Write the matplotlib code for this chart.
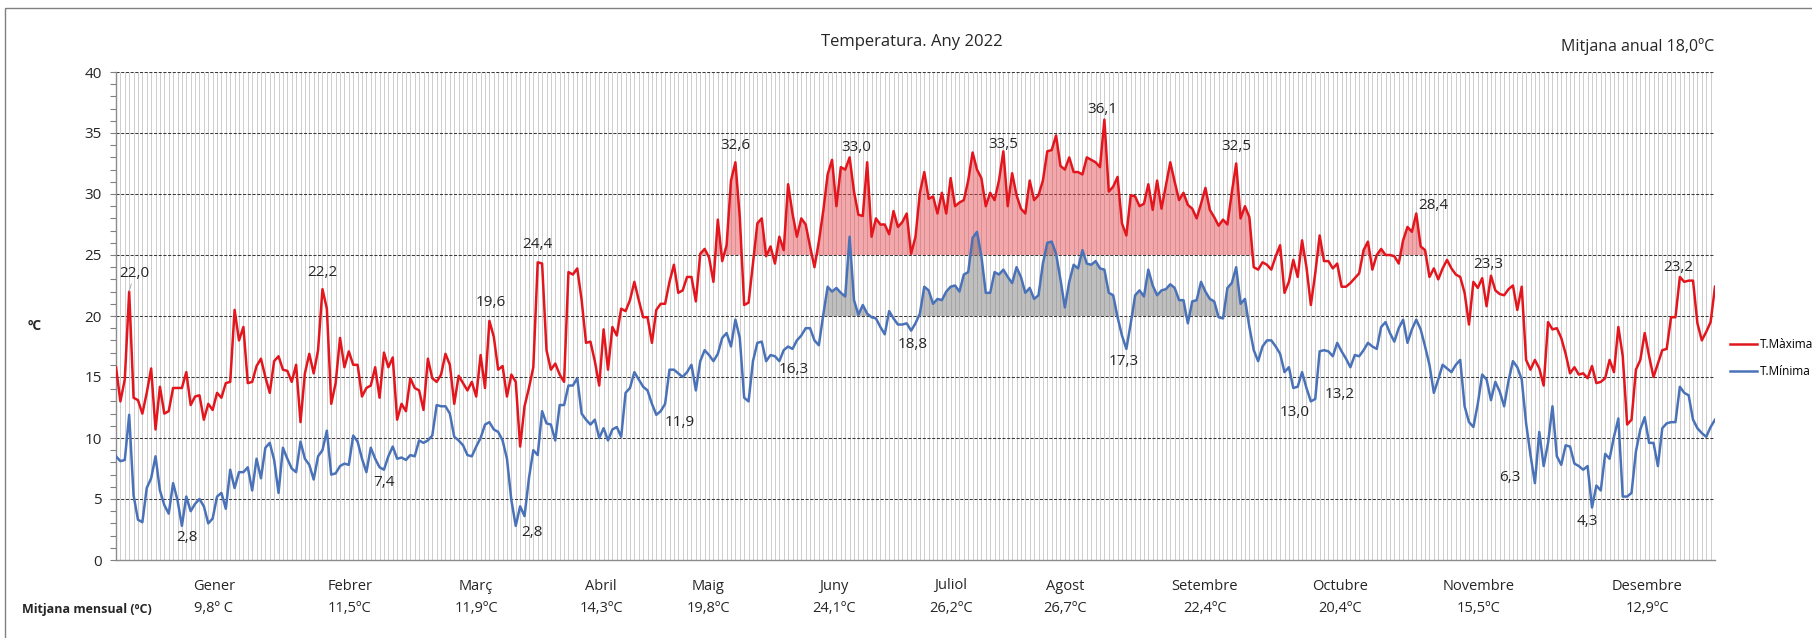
import matplotlib
matplotlib.use('Agg')
from matplotlib import pyplot as plt
from matplotlib.patches import Rectangle
from matplotlib.ticker import MultipleLocator
import numpy as np

plt.rcParams['font.family'] = ['Open Sans', 'DejaVu Sans']

# daily maximum temperatures, one list per month
tmax_gen = [15.8, 13.0, 14.8, 22.0, 13.3, 13.1, 12.0, 13.7, 15.7, 10.7, 14.2, 12.0, 12.2, 14.1, 14.1, 14.1,
            15.4, 12.7, 13.4, 13.5, 11.5, 12.8, 12.3, 13.7, 13.3, 14.5, 14.6, 20.5, 18.0, 19.1, 14.5]
tmax_feb = [14.6, 15.9, 16.5, 15.0, 13.7, 16.3, 16.7, 15.6, 15.5, 14.6, 16.0, 11.3, 15.3, 16.9, 15.3, 17.2,
            22.2, 20.6, 12.8, 14.5, 18.2, 15.8, 17.1, 16.0, 16.0, 13.4, 14.1, 14.3]
tmax_mar = [15.8, 13.3, 17.0, 15.8, 16.6, 11.5, 12.8, 12.2, 14.9, 14.1, 13.9, 12.3, 16.5, 14.9, 14.6, 15.2,
            16.9, 16.0, 12.8, 15.1, 14.5, 13.9, 14.6, 13.4, 16.8, 14.1, 19.6, 18.3, 15.6, 15.9, 13.4]
tmax_abr = [15.2, 14.6, 9.3, 12.6, 14.1, 15.8, 24.4, 24.3, 17.2, 15.6, 16.1, 15.2, 14.6, 23.6, 23.4, 23.9,
            21.3, 17.8, 17.9, 16.3, 14.3, 18.9, 15.6, 19.1, 18.4, 20.6, 20.4, 21.3, 22.8, 21.3]
tmax_mai = [19.9, 19.9, 17.8, 20.5, 21.0, 21.0, 22.8, 24.2, 21.9, 22.1, 23.2, 23.2, 21.2, 25.1, 25.5, 24.8,
            22.8, 27.9, 24.5, 25.8, 31.1, 32.6, 28.1, 20.9, 21.1, 24.3, 27.6, 28.0, 24.9, 25.7, 24.3]
tmax_jun = [26.5, 25.4, 30.8, 28.4, 26.5, 28.0, 27.5, 25.7, 24.0, 26.1, 28.6, 31.6, 32.8, 29.0, 32.2, 32.0,
            33.0, 30.2, 28.3, 28.2, 32.6, 26.5, 28.0, 27.5, 27.5, 26.7, 28.6, 27.3, 27.7, 28.4]
tmax_jul = [25.1, 26.5, 30.1, 31.8, 29.6, 29.8, 28.4, 30.1, 28.4, 31.3, 29.0, 29.3, 29.5, 31.1, 33.4, 32.0,
            31.3, 29.0, 30.1, 29.5, 31.1, 33.5, 29.0, 31.7, 29.9, 28.8, 28.4, 31.1, 29.5, 29.9, 31.1]
tmax_ago = [33.5, 33.6, 34.8, 32.3, 32.0, 33.0, 31.8, 31.8, 31.6, 33.0, 32.8, 32.6, 32.2, 36.1, 30.2, 30.6,
            31.4, 27.6, 26.6, 29.9, 29.8, 29.0, 29.2, 30.8, 28.7, 31.1, 28.8, 30.7, 32.6, 31.0, 29.5]
tmax_set = [30.1, 29.1, 28.8, 28.0, 29.2, 30.5, 28.7, 28.1, 27.4, 27.9, 27.5, 30.1, 32.5, 28.0, 29.0, 28.1,
            24.0, 23.8, 24.4, 24.2, 23.8, 24.9, 25.8, 21.9, 22.8, 24.6, 23.2, 26.2, 24.0, 20.9]
tmax_oct = [23.5, 26.6, 24.5, 24.5, 23.9, 24.3, 22.4, 22.4, 22.7, 23.1, 23.5, 25.4, 26.1, 23.8, 25.0, 25.5,
            25.0, 25.0, 24.9, 24.3, 26.2, 27.3, 26.9, 28.4, 25.7, 25.4, 23.2, 23.9, 23.0, 23.9, 24.6]
tmax_nov = [23.9, 23.4, 23.2, 21.9, 19.3, 22.8, 22.3, 23.1, 20.8, 23.3, 22.1, 21.8, 21.7, 22.2, 22.5, 20.5,
            22.4, 16.4, 15.6, 16.4, 15.7, 14.3, 19.5, 18.9, 19.0, 18.2, 16.9, 15.3, 15.8, 15.2]
tmax_des = [15.3, 14.9, 15.9, 14.5, 14.6, 14.9, 16.4, 15.4, 19.1, 16.7, 11.1, 11.5, 15.6, 16.4, 18.6, 16.7,
            15.0, 16.1, 17.2, 17.3, 19.9, 19.9, 23.2, 22.8, 22.9, 22.9, 19.4, 18.0, 18.7, 19.5, 22.4]

# daily minimum temperatures
tmin_gen = [8.5, 8.1, 8.2, 11.9, 5.3, 3.3, 3.1, 5.9, 6.7, 8.5, 5.7, 4.5, 3.8, 6.3, 4.9, 2.8,
            5.2, 4.0, 4.6, 5.0, 4.4, 3.0, 3.4, 5.2, 5.5, 4.2, 7.4, 5.9, 7.2, 7.2, 7.6]
tmin_feb = [5.7, 8.3, 6.7, 9.2, 9.6, 8.2, 5.5, 9.2, 8.3, 7.5, 7.2, 9.7, 8.3, 7.8, 6.6, 8.5,
            9.0, 10.6, 7.0, 7.1, 7.7, 7.9, 7.8, 10.2, 9.7, 8.3, 7.2, 9.2]
tmin_mar = [8.3, 7.6, 7.4, 8.5, 9.3, 8.3, 8.4, 8.2, 8.6, 8.5, 9.8, 9.6, 9.8, 10.2, 12.7, 12.6,
            12.6, 12.0, 10.1, 9.8, 9.4, 8.6, 8.5, 9.3, 10.0, 11.1, 11.3, 10.7, 10.5, 9.8, 8.3]
tmin_abr = [4.9, 2.8, 4.4, 3.6, 6.7, 9.0, 8.6, 12.2, 11.2, 11.1, 9.8, 12.7, 12.7, 14.3, 14.3, 14.9,
            12.0, 11.5, 11.1, 11.5, 10.0, 10.8, 9.8, 10.7, 10.9, 10.1, 13.7, 14.1, 15.4, 14.8]
tmin_mai = [14.2, 13.9, 12.8, 11.9, 12.2, 12.8, 15.6, 15.6, 15.3, 15.0, 15.4, 16.0, 13.9, 16.3, 17.2, 16.8,
            16.3, 16.9, 18.2, 18.6, 17.5, 19.7, 18.2, 13.3, 13.0, 16.3, 17.8, 17.9, 16.3, 16.8, 16.7]
tmin_jun = [16.3, 17.2, 17.5, 17.3, 18.0, 18.4, 19.0, 19.0, 18.0, 17.6, 20.1, 22.4, 22.0, 22.3, 21.9, 21.6,
            26.5, 21.3, 20.1, 20.9, 20.2, 19.9, 19.8, 19.1, 18.5, 20.4, 19.8, 19.3, 19.3, 19.4]
tmin_jul = [18.8, 19.4, 20.2, 22.4, 22.1, 21.0, 21.4, 21.3, 22.0, 22.4, 22.5, 22.0, 23.4, 23.6, 26.4, 26.9,
            24.9, 21.9, 21.9, 23.6, 23.4, 23.8, 23.2, 22.7, 24.0, 23.2, 21.9, 22.3, 21.4, 21.7, 24.3]
tmin_ago = [26.0, 26.1, 25.1, 23.0, 20.7, 22.8, 24.2, 23.9, 25.4, 24.3, 24.2, 24.5, 23.9, 23.8, 21.9, 21.7,
            19.9, 18.4, 17.3, 19.4, 21.7, 22.1, 21.6, 23.8, 22.5, 21.7, 22.1, 22.2, 22.6, 22.3, 21.3]
tmin_set = [21.3, 19.4, 21.2, 21.3, 22.8, 22.0, 21.4, 21.2, 19.9, 19.8, 22.3, 22.7, 24.0, 21.0, 21.4, 19.1,
            17.2, 16.3, 17.5, 18.0, 18.0, 17.5, 16.9, 15.4, 15.8, 14.1, 14.2, 15.4, 14.1, 13.0]
tmin_oct = [13.2, 17.1, 17.2, 17.1, 16.7, 17.8, 17.1, 16.5, 15.8, 16.8, 16.7, 17.2, 17.8, 17.5, 17.3, 19.1,
            19.5, 18.6, 17.9, 19.0, 19.7, 17.8, 18.9, 19.7, 18.9, 17.5, 16.0, 13.7, 14.8, 16.0, 15.7]
tmin_nov = [15.4, 16.0, 16.4, 12.6, 11.3, 10.9, 12.8, 15.2, 14.8, 13.1, 14.6, 13.8, 12.6, 14.7, 16.3, 15.8,
            14.8, 11.2, 8.6, 6.3, 10.5, 7.7, 9.6, 12.6, 8.5, 7.8, 9.4, 9.3, 7.9, 7.7]
tmin_des = [7.4, 7.7, 4.3, 6.1, 5.7, 8.7, 8.3, 10.1, 11.6, 5.2, 5.2, 5.5, 8.9, 10.7, 11.7, 9.6,
            9.6, 7.7, 10.8, 11.2, 11.3, 11.3, 14.2, 13.7, 13.5, 11.5, 10.8, 10.4, 10.1, 10.9, 11.5]

mesos = ['Gener', 'Febrer', 'Març', 'Abril', 'Maig', 'Juny', 'Juliol', 'Agost', 'Setembre',
         'Octubre', 'Novembre', 'Desembre']
mitjanes = ['9,8º C', '11,5ºC', '11,9ºC', '14,3ºC', '19,8ºC', '24,1ºC', '26,2ºC', '26,7ºC', '22,4ºC',
            '20,4ºC', '15,5ºC', '12,9ºC']
mitjana_anual = '18,0ºC'

# days (0 = 1 Jan) whose value is labelled
dies_max = [3, 47, 85, 96, 141, 167, 202, 225, 255, 296, 313, 356]
dies_min = [15, 61, 91, 123, 151, 181, 230, 272, 273, 323, 336]

tmax = np.array(tmax_gen + tmax_feb + tmax_mar + tmax_abr + tmax_mai + tmax_jun +
                tmax_jul + tmax_ago + tmax_set + tmax_oct + tmax_nov + tmax_des)
tmin = np.array(tmin_gen + tmin_feb + tmin_mar + tmin_abr + tmin_mai + tmin_jun +
                tmin_jul + tmin_ago + tmin_set + tmin_oct + tmin_nov + tmin_des)
dies = np.arange(len(tmax))

W, H = 1812, 638
fig = plt.figure(figsize=(W / 100, H / 100), dpi=100)
fig.patches.append(Rectangle((5 / W, -0.1), 1.2, 1 - 8 / H + 0.1, transform=fig.transFigure,
                             fill=False, edgecolor='#808080', linewidth=1.0))

ax = fig.add_axes([116 / W, 1 - 560 / H, (1715 - 116) / W, (560 - 72) / H])
ax.set_xlim(0, len(tmax) - 1)
ax.set_ylim(0, 40)

# one vertical grid line per day
ax.vlines(dies, 0, 40, colors='#c9c9c9', linewidth=0.65, zorder=0)
for v in range(5, 41, 5):
  ax.axhline(v, color='#3a3a3a', linewidth=0.75, linestyle=(0, (3, 1.5)), zorder=1)

ax.fill_between(dies, 25, tmax, where=tmax > 25, interpolate=True,
                facecolor=(0.9, 0.25, 0.28, 0.45), linewidth=0, zorder=2)
ax.fill_between(dies, 20, tmin, where=tmin > 20, interpolate=True,
                facecolor=(0.45, 0.45, 0.45, 0.45), linewidth=0, zorder=2)

l_max, = ax.plot(dies, tmax, color='#E3161E', linewidth=1.8, label='T.Màxima', zorder=4)
l_min, = ax.plot(dies, tmin, color='#4A72B8', linewidth=1.8, label='T.Mínima', zorder=3)

def fmt(v):
  return ('%.1f' % v).replace('.', ',')

# label offsets in pixels (dx, dy up)
off_max = [(5, 18), (0, 17), (1, 18), (0, 18), (0, 17), (7, 10), (0, 7), (-2, 10), (0, 17),
           (17, 8), (-3, 11), (-2, 9)]
off_min = [(5, -12), (0, -13), (16, -7), (23, -8), (14, -8), (2, -14), (-3, -13), (-16, -11),
           (24, 4), (-25, 6), (-5, -14)]
for i, d in enumerate(dies_max):
  arrow = dict(arrowstyle='-', color='#a0a0a0', linewidth=0.6, shrinkA=0, shrinkB=6) if i == 0 else None
  ax.annotate(fmt(tmax[d]), (d, tmax[d]), xytext=off_max[i], textcoords='offset pixels',
              ha='center', va='center', fontsize=11, color='#262626', arrowprops=arrow, zorder=6)
for i, d in enumerate(dies_min):
  ax.annotate(fmt(tmin[d]), (d, tmin[d]), xytext=off_min[i], textcoords='offset pixels',
              ha='center', va='center', fontsize=11, color='#262626', zorder=6)

ax.yaxis.set_major_locator(MultipleLocator(5))
ax.yaxis.set_minor_locator(MultipleLocator(1))
ax.tick_params(axis='y', which='both', direction='out', length=4, width=0.8, color='#808080',
               labelsize=11, labelcolor='#262626', pad=6)
ax.set_xticks([])
for s in ['top', 'right']:
  ax.spines[s].set_visible(False)
for s in ['left', 'bottom']:
  ax.spines[s].set_color('#8c8c8c')
  ax.spines[s].set_linewidth(1.0)

fig.text(912 / W, 1 - 42 / H, 'Temperatura. Any 2022', ha='center', va='center', fontsize=12,
         color='#262626')
fig.text(1714 / W, 1 - 47 / H, 'Mitjana anual ' + mitjana_anual, ha='right', va='center',
         fontsize=11.5, color='#262626')
fig.text(35 / W, 1 - 326 / H, 'ºC', ha='center', va='center', fontsize=10, fontweight='bold',
         color='#262626')

mes_x = [214, 350, 476, 601, 708, 834, 951, 1065, 1205, 1340, 1479, 1647]
for i in range(len(mesos)):
  fig.text(mes_x[i] / W, 1 - 586 / H, mesos[i], ha='center', va='center', fontsize=10.5,
           color='#262626')
  fig.text(mes_x[i] / W, 1 - 609 / H, mitjanes[i], ha='center', va='center', fontsize=10.5,
           color='#262626')
fig.text(87 / W, 1 - 609 / H, 'Mitjana mensual (ºC)', ha='center', va='center', fontsize=9,
         fontweight='bold', color='#262626')

fig.legend(handles=[l_max, l_min], loc='center left', bbox_to_anchor=(1730 / W, 1 - 358 / H),
           frameon=False, fontsize=8.5, handlelength=2.3, handletextpad=0.2, labelspacing=1.2,
           borderpad=0, borderaxespad=0)

plt.savefig('out.png', dpi=100)
